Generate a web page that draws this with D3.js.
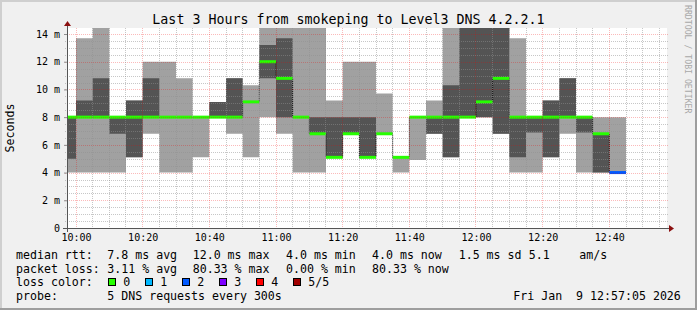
<!DOCTYPE html>
<html>
<head>
<meta charset="utf-8">
<script src="https://cdn.jsdelivr.net/npm/d3@7"></script>
<style>
  body { margin: 0; background: #f0f0f0; }
  svg { display: block; font-family: "DejaVu Sans Mono", monospace; }
  text { white-space: pre; }
</style>
</head>
<body>
<script>
// 5 minute steps, start time of each step
const stepTimes = ["09:55", "10:00", "10:05", "10:10", "10:15", "10:20", "10:25", "10:30", "10:35",
  "10:40", "10:45", "10:50", "10:55", "11:00", "11:05", "11:10", "11:15", "11:20", "11:25",
  "11:30", "11:35", "11:40", "11:45", "11:50", "11:55", "12:00", "12:05", "12:10", "12:15",
  "12:20", "12:25", "12:30", "12:35", "12:40"];

// the 5 sorted pings of each step (ms)
const pingMin    = [4.0, 4.0, 4.0, 4.0, 5.1, 6.8, 4.0, 4.0, 5.1, 8.0, 6.8, 5.1, 8.0, 6.8, 4.0, 4.0, 5.1,
  6.8, 5.1, 6.8, 4.0, 4.9, 6.8, 5.1, 8.0, 8.0, 6.8, 4.0, 4.0, 5.1, 6.8, 4.0, 4.0, 4.0];
const pingLow    = [5.0, 8.0, 8.0, 6.8, 5.1, 8.0, 8.0, 8.0, 8.0, 8.0, 8.0, 9.1, 10.8, 8.0, 8.0, 6.8, 5.1,
  6.8, 5.1, 6.8, 5.1, 8.0, 6.8, 5.1, 8.0, 8.0, 6.8, 5.1, 6.9, 5.1, 8.0, 6.9, 4.0, 4.0];
const pingMedian = [8.0, 8.0, 8.0, 8.0, 8.0, 8.0, 8.0, 8.0, 8.0, 8.0, 8.0, 9.1, 12.0, 10.8, 8.0, 6.8, 5.1,
  6.8, 5.1, 6.8, 5.1, 8.0, 8.0, 8.0, 8.0, 9.1, 10.8, 8.0, 8.0, 8.0, 8.0, 8.0, 6.8, 4.0];
const pingHigh   = [8.0, 9.2, 10.8, 8.0, 9.2, 10.8, 8.0, 8.0, 8.0, 9.1, 10.8, 9.1, 13.2, 13.7, 8.0, 8.0, 8.0,
  8.0, 8.0, 6.8, 5.1, 8.0, 8.0, 10.3, 14.6, 14.6, 14.6, 8.0, 8.0, 9.2, 10.8, 8.0, 6.8, 4.0];
const pingMax    = [8.0, 13.7, 14.6, 8.0, 9.2, 12.0, 12.0, 10.8, 8.0, 9.1, 10.8, 10.3, 14.6, 14.6, 14.6, 14.6, 9.2,
  12.0, 12.0, 9.7, 5.1, 8.0, 9.2, 14.6, 14.6, 14.6, 14.6, 13.7, 8.0, 9.2, 10.8, 8.0, 8.0, 8.0];
const lossCount  = [0, 0, 0, 0, 0, 0, 0, 0, 0, 0, 0, 0, 0, 0, 0, 0, 0,
  0, 0, 0, 0, 0, 0, 0, 0, 0, 0, 0, 0, 0, 0, 0, 0, 2];

const lossColors = ["#26ff00", "#00b8ff", "#0059ff", "#7e00ff", "#ff0000", "#a10000"];
const lossLabels = ["0", "1", "2", "3", "4", "5/5"];

const yTickValues = [0, 2, 4, 6, 8, 10, 12, 14];
const xTickLabels = ["10:00", "10:20", "10:40", "11:00", "11:20", "11:40", "12:00", "12:20", "12:40"];

const rttStats  = ["7.8 ms avg", "12.0 ms max", "4.0 ms min", "4.0 ms now", "1.5 ms sd", "5.1", "am/s"];
const lossStats = ["3.11 % avg", "80.33 % max", "0.00 % min", "80.33 % now"];
const probeText = "5 DNS requests every 300s";
const stampText = "Fri Jan  9 12:57:05 2026";

const W = 697, H = 310;
const plotLeft = 67, plotTop = 28, plotW = 600, plotH = 200;
const parse = d3.timeParse("%H:%M:%S");
const pt = s => parse(s + ":00");
const majorGrid = "rgba(240,0,0,0.27)";
const minorGrid = "rgba(143,143,143,0.5)";

const svg = d3.select("body").append("svg")
  .attr("width", W)
  .attr("height", H);

// background and shading border
svg.append("rect").attr("width", W).attr("height", H).attr("fill", "#f0f0f0");
svg.append("rect").attr("x", 0).attr("y", 0).attr("width", W).attr("height", 2).attr("fill", "#cfcfcf");
svg.append("rect").attr("x", 0).attr("y", 0).attr("width", 2).attr("height", H).attr("fill", "#cfcfcf");
svg.append("rect").attr("x", 0).attr("y", H - 2).attr("width", W).attr("height", 2).attr("fill", "#9e9e9e");
svg.append("rect").attr("x", W - 2).attr("y", 0).attr("width", 2).attr("height", H).attr("fill", "#9e9e9e");

const x = d3.scaleTime()
  .domain([parse("09:57:18"), parse("12:57:18")])
  .range([plotLeft, plotLeft + plotW]);

const y = d3.scaleLinear()
  .domain([0, 14.433])
  .range([plotTop + plotH, plotTop]);

svg.append("rect")
  .attr("x", plotLeft).attr("y", plotTop)
  .attr("width", plotW).attr("height", plotH)
  .attr("fill", "#ffffff");

svg.append("clipPath").attr("id", "clip")
  .append("rect")
  .attr("x", plotLeft).attr("y", plotTop)
  .attr("width", plotW).attr("height", plotH);

const rows = stepTimes.map((t, i) => ({
  t: pt(t),
  min: pingMin[i], lo: pingLow[i], med: pingMedian[i], hi: pingHigh[i], max: pingMax[i],
  loss: lossCount[i]
}));
// closing point so the last step gets its width
const last = rows[rows.length - 1];
const stepRows = rows.concat([Object.assign({}, last, { t: d3.timeMinute.offset(last.t, 5) })]);

const plot = svg.append("g").attr("clip-path", "url(#clip)");

// smoke
plot.append("path")
  .datum(stepRows)
  .attr("fill", "#a1a1a1")
  .attr("d", d3.area().curve(d3.curveStepAfter)
    .x(d => x(d.t)).y0(d => y(d.min)).y1(d => y(d.max)));

plot.append("path")
  .datum(stepRows)
  .attr("fill", "#545454")
  .attr("d", d3.area().curve(d3.curveStepAfter)
    .x(d => x(d.t)).y0(d => y(d.lo)).y1(d => y(d.hi)));

// median: thin stepped line + coloured segments
plot.append("path")
  .datum(stepRows)
  .attr("fill", "none")
  .attr("stroke", "#111")
  .attr("stroke-width", 1)
  .attr("stroke-dasharray", "1,1")
  .attr("d", d3.line().curve(d3.curveStepAfter).x(d => x(d.t)).y(d => y(d.med)));

plot.selectAll("line.med")
  .data(rows)
  .enter()
  .append("line")
  .attr("class", "med")
  .attr("x1", d => x(d.t))
  .attr("x2", d => x(d3.timeMinute.offset(d.t, 5)))
  .attr("y1", d => y(d.med))
  .attr("y2", d => y(d.med))
  .attr("stroke", d => lossColors[d.loss])
  .attr("stroke-width", 3);

// grid on top
const grid = svg.append("g");
const hLines = d3.range(0, 14.5, 0.5).filter(v => v > 0);
grid.selectAll("line.h")
  .data(hLines)
  .enter()
  .append("line")
  .attr("x1", plotLeft - 2).attr("x2", plotLeft + plotW + 2)
  .attr("y1", d => Math.round(y(d)) + 0.5).attr("y2", d => Math.round(y(d)) + 0.5)
  .attr("stroke", d => d % 2 === 0 ? majorGrid : minorGrid)
  .attr("stroke-dasharray", "1,1");

const vLines = d3.timeMinute.every(5).range(x.domain()[0], x.domain()[1]);
grid.selectAll("line.v")
  .data(vLines)
  .enter()
  .append("line")
  .attr("x1", d => Math.floor(x(d)) + 0.5).attr("x2", d => Math.floor(x(d)) + 0.5)
  .attr("y1", plotTop).attr("y2", plotTop + plotH + 2)
  .attr("stroke", d => d.getMinutes() % 20 === 0 ? majorGrid : minorGrid)
  .attr("stroke-dasharray", "1,1");

// axes
const yAxis = d3.axisLeft(y)
  .tickValues(yTickValues)
  .tickSize(3)
  .tickPadding(4)
  .tickFormat(d => d === 0 ? "0" : d + " m");
const gy = svg.append("g")
  .attr("transform", `translate(${plotLeft},0)`)
  .call(yAxis);
gy.select(".domain").remove();
gy.selectAll(".tick line").attr("stroke", "#8f8f8f");
gy.selectAll("text").attr("font-size", 10).attr("fill", "#000")
  .attr("font-family", "DejaVu Sans Mono");

const xAxis = d3.axisBottom(x)
  .tickValues(xTickLabels.map(pt))
  .tickSize(0)
  .tickPadding(6)
  .tickFormat(d3.timeFormat("%H:%M"));
const gx = svg.append("g")
  .attr("transform", `translate(0,${plotTop + plotH})`)
  .call(xAxis);
gx.select(".domain").remove();
gx.selectAll("text").attr("font-size", 10).attr("fill", "#000")
  .attr("font-family", "DejaVu Sans Mono");

// axis lines + arrows
svg.append("line")
  .attr("x1", plotLeft - 4).attr("x2", plotLeft + plotW + 4)
  .attr("y1", plotTop + plotH + 0.5).attr("y2", plotTop + plotH + 0.5)
  .attr("stroke", "#555");
svg.append("line")
  .attr("x1", plotLeft + 0.5).attr("x2", plotLeft + 0.5)
  .attr("y1", plotTop + plotH + 4).attr("y2", plotTop - 4)
  .attr("stroke", "#555");
svg.append("path")
  .attr("d", `M${plotLeft + plotW + 2},${plotTop + plotH - 3}L${plotLeft + plotW + 7},${plotTop + plotH + 0.5}L${plotLeft + plotW + 2},${plotTop + plotH + 4}Z`)
  .attr("fill", "#8b1010");
svg.append("path")
  .attr("d", `M${plotLeft - 3},${plotTop - 2}L${plotLeft + 0.5},${plotTop - 7}L${plotLeft + 4},${plotTop - 2}Z`)
  .attr("fill", "#8b1010");

// title and labels
svg.append("text")
  .attr("x", W / 2).attr("y", 24)
  .attr("text-anchor", "middle")
  .attr("font-size", 13.3)
  .text("Last 3 Hours from smokeping to Level3 DNS 4.2.2.1");

svg.append("text")
  .attr("transform", `translate(14,${plotTop + plotH / 2}) rotate(-90)`)
  .attr("text-anchor", "middle")
  .attr("font-size", 11.6)
  .text("Seconds");

svg.append("text")
  .attr("transform", "translate(685,5) rotate(90)")
  .attr("font-size", 8.2)
  .attr("fill", "#a8a8a8")
  .text("RRDTOOL / TOBI OETIKER");

// legend
const legX = [16, 107.3, 192.7, 286, 372, 458.7, 528.7, 579.3];
const lineY = [259, 272.5, 286, 299.5];
const leg = svg.append("g").attr("font-size", 11.6).attr("fill", "#000");

leg.append("text").attr("x", legX[0]).attr("y", lineY[0]).text("median rtt:");
leg.selectAll("text.rtt").data(rttStats).enter().append("text")
  .attr("class", "rtt")
  .attr("x", (d, i) => legX[i + 1]).attr("y", lineY[0]).text(d => d);

leg.append("text").attr("x", legX[0]).attr("y", lineY[1]).text("packet loss:");
leg.selectAll("text.loss").data(lossStats).enter().append("text")
  .attr("class", "loss")
  .attr("x", (d, i) => legX[i + 1]).attr("y", lineY[1]).text(d => d);

leg.append("text").attr("x", legX[0]).attr("y", lineY[2]).text("loss color:");
const boxX = [108.5, 145.5, 182.5, 219.5, 256.5, 293.5];
const lc = leg.selectAll("g.lc").data(lossLabels).enter().append("g").attr("class", "lc");
lc.append("rect")
  .attr("x", (d, i) => boxX[i]).attr("y", 278.5)
  .attr("width", 7).attr("height", 7)
  .attr("fill", (d, i) => lossColors[i])
  .attr("stroke", "#000");
lc.append("text")
  .attr("x", (d, i) => boxX[i] + 14.8).attr("y", lineY[2])
  .text(d => d);

leg.append("text").attr("x", legX[0]).attr("y", lineY[3]).text("probe:");
leg.append("text").attr("x", legX[1]).attr("y", lineY[3]).text(probeText);
leg.append("text").attr("x", 513.3).attr("y", lineY[3]).text(stampText);
</script>
</body>
</html>
